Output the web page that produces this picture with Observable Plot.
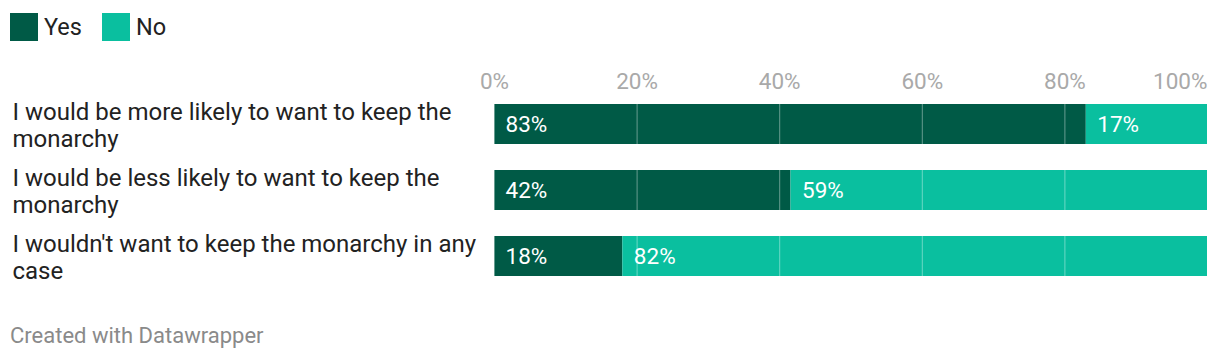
<!DOCTYPE html>
<html><head><meta charset="utf-8">
<script src="https://cdn.jsdelivr.net/npm/d3@7"></script>
<script src="https://cdn.jsdelivr.net/npm/@observablehq/plot@0.6"></script>
<style>
body{margin:0;background:#fff;font-family:Roboto,sans-serif;width:1220px;height:362px;overflow:hidden;position:relative}
#legend{position:absolute;left:10px;top:13px;display:flex;align-items:center;font-size:23.5px;color:#222;line-height:28px}
.item{display:flex;align-items:center;margin-right:20px}
.sw{width:28px;height:28px;margin-right:6px}
#chart{position:absolute;left:0;top:50px}
#caption{position:absolute;left:10px;top:323px;font-size:22px;line-height:26px;color:#8a8a8a}
</style></head><body>
<div id="legend"></div><div id="chart"></div><div id="caption">Created with Datawrapper</div>
<script>
const categories = [
  "I would be more likely to want to keep the\nmonarchy",
  "I would be less likely to want to keep the\nmonarchy",
  "I wouldn't want to keep the monarchy in any\ncase"
];
const answers = ["Yes", "No"];
const yesValues = [83, 42, 18];
const noValues = [17, 59, 82];
const tickValues = [0, 0.2, 0.4, 0.6, 0.8, 1];
const tickLabels = ["0%", "20%", "40%", "60%", "80%", "100%"];
const colors = ["#005a46", "#0abf9f"];

const data = [];
categories.forEach((q, i) => {
  data.push({q, answer: "Yes", value: yesValues[i]});
  data.push({q, answer: "No", value: noValues[i]});
});

const legend = document.getElementById("legend");
answers.forEach((a, i) => {
  const it = document.createElement("div");
  it.className = "item";
  it.innerHTML = `<div class="sw" style="background:${colors[i]}"></div><span>${a}</span>`;
  legend.appendChild(it);
});

const fs = 22.5;
const chart = Plot.plot({
  width: 1220,
  height: 250,
  marginLeft: 494,
  marginRight: 13,
  marginTop: 54,
  marginBottom: 24,
  style: {fontFamily: "Roboto, sans-serif", background: "transparent"},
  x: {domain: [0, 1], axis: null},
  y: {domain: categories, axis: null, paddingInner: 0.394, paddingOuter: 0},
  color: {domain: answers, range: colors},
  marks: [
    Plot.barX(data, Plot.stackX({x: "value", y: "q", fill: "answer", z: "answer", offset: "normalize"})),
    Plot.ruleX(tickValues, {x: d => d, stroke: "white", strokeOpacity: 0.4}),
    Plot.text(data, Plot.stackX1({x: "value", y: "q", z: "answer", offset: "normalize",
      text: d => d.value + "%", textAnchor: "start", dx: 11, fill: "white", fontSize: fs})),
    Plot.text(tickValues.slice(0, 5), {x: d => d, frameAnchor: "top", lineAnchor: "bottom", dy: -16,
      text: (d, i) => tickLabels[i], fill: "#a9a9a9", fontSize: fs}),
    Plot.text(tickValues.slice(5), {x: d => d, frameAnchor: "top", lineAnchor: "bottom", dy: -16,
      textAnchor: "end", text: (d, i) => tickLabels[5 + i], fill: "#a9a9a9", fontSize: fs}),
    Plot.text(categories, {y: d => d, frameAnchor: "left", dx: -482, textAnchor: "start",
      lineHeight: 1.125, fill: "#222", fontSize: 24, text: d => d})
  ]
});
document.getElementById("chart").appendChild(chart);
</script>
</body></html>
